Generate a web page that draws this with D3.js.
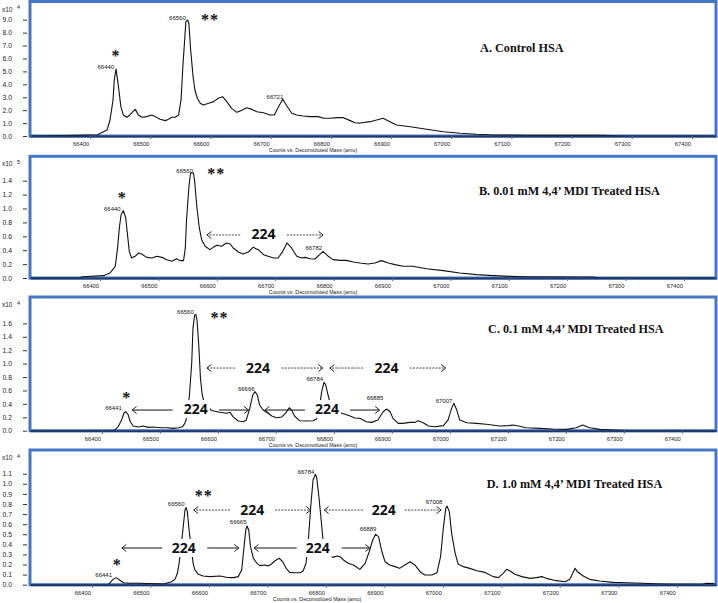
<!DOCTYPE html>
<html>
<head>
<meta charset="utf-8">
<script src="https://cdn.jsdelivr.net/npm/d3@7"></script>
<style>
  body { margin: 0; background: #fff; }
  svg { display: block; }
</style>
</head>
<body>
<svg id="chart" width="718" height="603"></svg>
<script>
// ---- spectra: [deconvoluted mass (amu), counts in units of the panel exponent] ----
const spectrumA = [
  [66300,0],[66378,0.05],[66412,0.1],[66417,0.21],[66428,0.46],[66433,1.24],[66438,2.79],[66440,4.33],[66443,5.19],
  [66447,3.82],[66451,2.27],[66455,1.63],[66461,1.45],[66466,1.63],[66471,1.88],[66475,2.06],[66480,1.63],[66486,1.45],
  [66494,1.50],[66502,1.63],[66508,1.50],[66516,1.29],[66525,1.19],[66530,1.29],[66536,1.45],[66541,1.45],[66547,1.63],
  [66551,2.79],[66554,5.37],[66557,7.43],[66559,8.85],[66562,8.98],[66564,8.72],[66567,6.66],[66571,4.59],[66574,3.56],
  [66578,2.92],[66583,2.53],[66588,2.40],[66597,2.53],[66605,2.66],[66613,2.92],[66620,3.04],[66627,2.66],[66635,2.14],
  [66644,1.83],[66652,2.00],[66660,2.19],[66669,2.06],[66677,1.88],[66688,1.80],[66699,1.63],[66706,1.63],[66713,2.27],
  [66720,2.84],[66727,2.32],[66735,1.76],[66743,1.63],[66754,1.55],[66765,1.50],[66779,1.50],[66788,1.37],[66799,1.37],
  [66810,1.42],[66821,1.42],[66832,1.19],[66840,1.03],[66849,1.00],[66865,1.11],[66876,1.24],[66887,1.37],[66898,1.11],
  [66909,0.85],[66932,0.72],[66959,0.52],[66987,0.33],[67015,0.21],[67042,0.13],[67070,0.08],[67125,0.05],[67253,0.05],
  [67280,0],[67440,0]
];
const spectrumB = [
  [66280,0],[66363,0],[66370,0.019],[66406,0.034],[66417,0.072],[66426,0.168],[66430,0.43],[66433,0.72],[66436,0.91],
  [66440,0.969],[66444,0.863],[66447,0.624],[66450,0.384],[66454,0.288],[66460,0.312],[66466,0.36],[66471,0.345],
  [66480,0.297],[66489,0.288],[66497,0.312],[66506,0.297],[66514,0.264],[66523,0.24],[66531,0.278],[66537,0.25],
  [66543,0.25],[66546,0.43],[66548,0.815],[66552,1.295],[66555,1.511],[66560,1.511],[66562,1.39],[66566,1.007],
  [66570,0.72],[66574,0.552],[66580,0.456],[66588,0.408],[66594,0.441],[66600,0.47],[66608,0.456],[66617,0.504],
  [66623,0.489],[66628,0.432],[66637,0.374],[66645,0.345],[66654,0.374],[66662,0.441],[66671,0.408],[66680,0.336],
  [66688,0.312],[66697,0.288],[66705,0.288],[66713,0.384],[66720,0.504],[66728,0.432],[66737,0.312],[66745,0.288],
  [66751,0.297],[66760,0.278],[66768,0.273],[66776,0.336],[66782,0.384],[66791,0.312],[66799,0.264],[66811,0.254],
  [66822,0.254],[66834,0.23],[66845,0.216],[66859,0.201],[66871,0.216],[66882,0.25],[66894,0.216],[66905,0.192],
  [66919,0.168],[66936,0.168],[66959,0.134],[66988,0.106],[67016,0.072],[67045,0.048],[67073,0.034],[67102,0.024],
  [67131,0.019],[67245,0.014],[67256,0],[67455,0]
];
const spectrumC = [
  [66276,0],[66419,0],[66422,0.01],[66428,0.06],[66434,0.16],[66438,0.26],[66441,0.284],[66445,0.244],[66449,0.134],
  [66454,0.070],[66463,0.055],[66471,0.070],[66480,0.05],[66488,0.055],[66500,0.045],[66512,0.045],[66523,0.035],
  [66532,0.045],[66539,0.06],[66543,0.109],[66546,0.184],[66551,0.532],[66555,1.029],[66557,1.525],[66560,1.724],
  [66562,1.734],[66564,1.649],[66567,1.277],[66570,0.78],[66573,0.532],[66576,0.433],[66589,0.30],[66603,0.274],
  [66615,0.26],[66621,0.274],[66626,0.209],[66635,0.144],[66644,0.134],[66649,0.16],[66655,0.333],[66660,0.532],
  [66664,0.582],[66668,0.532],[66672,0.383],[66678,0.308],[66684,0.274],[66693,0.219],[66701,0.194],[66710,0.204],
  [66718,0.274],[66723,0.343],[66727,0.308],[66733,0.209],[66741,0.149],[66753,0.144],[66764,0.149],[66770,0.174],
  [66775,0.333],[66779,0.582],[66783,0.721],[66786,0.681],[66790,0.532],[66793,0.433],[66810,0.27],[66828,0.219],
  [66836,0.189],[66845,0.184],[66856,0.134],[66865,0.124],[66876,0.16],[66885,0.283],[66891,0.323],[66897,0.283],
  [66902,0.184],[66911,0.109],[66919,0.109],[66931,0.124],[66940,0.124],[66945,0.149],[66954,0.119],[66963,0.070],
  [66974,0.06],[66989,0.075],[66997,0.16],[67003,0.333],[67007,0.408],[67012,0.308],[67017,0.16],[67029,0.119],
  [67046,0.109],[67063,0.095],[67086,0.070],[67101,0.075],[67109,0.085],[67118,0.070],[67132,0.045],[67155,0.035],
  [67178,0.025],[67201,0.02],[67218,0.045],[67229,0.085],[67241,0.045],[67259,0.02],[67282,0.01],[67293,0.005],
  [67310,0],[67459,0]
];
const spectrumD = [
  [66294,0],[66428,0],[66431,0.02],[66436,0.053],[66441,0.070],[66447,0.047],[66454,0.020],[66465,0.014],[66482,0.014],
  [66511,0.010],[66522,0.007],[66530,0.020],[66536,0.030],[66542,0.053],[66546,0.113],[66549,0.212],[66553,0.41],
  [66556,0.575],[66559,0.740],[66561,0.764],[66563,0.724],[66566,0.542],[66570,0.35],[66573,0.212],[66576,0.146],
  [66582,0.103],[66590,0.086],[66602,0.080],[66619,0.086],[66630,0.073],[66642,0.070],[66650,0.080],[66656,0.146],
  [66660,0.377],[66663,0.542],[66665,0.582],[66668,0.542],[66671,0.377],[66676,0.262],[66682,0.212],[66687,0.189],
  [66696,0.196],[66701,0.185],[66707,0.205],[66713,0.238],[66720,0.262],[66726,0.228],[66732,0.162],[66738,0.122],
  [66747,0.119],[66756,0.119],[66761,0.136],[66766,0.212],[66770,0.443],[66774,0.773],[66778,1.038],[66782,1.094],
  [66784,1.071],[66788,0.872],[66793,0.575],[66795,0.443],[66801,0.33],[66807,0.294],[66812,0.271],[66819,0.284],
  [66824,0.278],[66830,0.245],[66838,0.212],[66847,0.196],[66858,0.152],[66867,0.212],[66874,0.327],[66880,0.443],
  [66885,0.499],[66890,0.476],[66895,0.344],[66901,0.228],[66909,0.196],[66918,0.179],[66926,0.162],[66935,0.196],
  [66944,0.228],[66952,0.196],[66961,0.129],[66969,0.096],[66981,0.096],[66990,0.119],[66996,0.278],[67001,0.575],
  [67005,0.757],[67007,0.780],[67011,0.724],[67015,0.509],[67021,0.311],[67026,0.205],[67035,0.179],[67046,0.162],
  [67058,0.139],[67072,0.122],[67086,0.080],[67095,0.070],[67103,0.113],[67109,0.152],[67115,0.136],[67123,0.103],
  [67135,0.080],[67149,0.063],[67160,0.070],[67169,0.080],[67177,0.063],[67194,0.040],[67209,0.030],[67217,0.053],
  [67222,0.113],[67226,0.162],[67230,0.129],[67240,0.086],[67251,0.053],[67268,0.036],[67291,0.023],[67314,0.020],
  [67342,0.014],[67371,0.007],[67399,0.003],[67445,0.007],[67451,0.014],[67467,0.01]
];

// ---- axes ----
const xTicks = [66400, 66500, 66600, 66700, 66800, 66900, 67000, 67100, 67200, 67300, 67400];
const xDomainA = [66300, 67440];
const xDomainB = [66280, 67455];
const xDomainC = [66276, 67459];
const xDomainD = [66294, 67467];
const yTicksA = [0, 1, 2, 3, 4, 5, 6, 7, 8, 9];
const yTicksB = [0, 0.2, 0.4, 0.6, 0.8, 1.0, 1.2, 1.4];
const yTicksC = [0, 0.2, 0.4, 0.6, 0.8, 1.0, 1.2, 1.4, 1.6];
const yTicksD = [0, 0.1, 0.2, 0.3, 0.4, 0.5, 0.6, 0.7, 0.8, 0.9, 1.0, 1.1];
const yDomainA = [0, 10.41];
const yDomainB = [0, 1.751];
const yDomainC = [0, 1.993];
const yDomainD = [0, 1.335];

// ---- annotations: [text, mass, counts] ----
const peakLabelsA = [["66440", 66426, 5.34], ["66560", 66545, 9.13], ["66721", 66707, 3.02]];
const peakLabelsB = [["66440", 66421, 0.993], ["66560", 66545, 1.54], ["66782", 66766, 0.432]];
const peakLabelsC = [["66441", 66420, 0.338], ["66560", 66544, 1.769], ["66666", 66649, 0.621],
                     ["66784", 66767, 0.770], ["66885", 66871, 0.487], ["67007", 66990, 0.443]];
const peakLabelsD = [["66441", 66420, 0.096], ["66560", 66544, 0.80], ["66665", 66650, 0.621],
                     ["66784", 66766, 1.117], ["66889", 66872, 0.552], ["67008", 66985, 0.82]];
const starsA = [["*", 66443, 6.42], ["**", 66599, 9.21]];
const starsB = [["*", 66438, 1.194], ["**", 66599, 1.54]];
const starsC = [["*", 66443, 0.527], ["**", 66603, 1.724]];
const starsD = [["*", 66443, 0.225], ["**", 66591, 0.909]];
// arrows: [tail mass, head mass, counts, style]
const arrowsB = [[66640, 66583, 0.619, "dash"], [66720, 66782, 0.619, "dash"]];
const arrowsC = [[66629, 66581, 0.934, "dash"], [66710, 66781, 0.934, "dash"], [66850, 66793, 0.934, "dash"],
                 [66931, 66993, 0.934, "dash"], [66522, 66452, 0.308, "solid"], [66602, 66653, 0.308, "solid"],
                 [66750, 66681, 0.308, "solid"], [66828, 66879, 0.308, "solid"]];
const arrowsD = [[66636, 66574, 0.740, "dash"], [66713, 66774, 0.740, "dash"], [66863, 66797, 0.740, "dash"],
                 [66935, 66997, 0.740, "dash"], [66520, 66451, 0.364, "solid"], [66597, 66651, 0.364, "solid"],
                 [66750, 66677, 0.364, "solid"], [66827, 66875, 0.364, "solid"]];
// "224" mass shift labels: [mass, counts]
const shiftLabelsB = [[66680, 0.633]];
const shiftLabelsC = [[66669, 0.934], [66891, 0.934], [66562, 0.323], [66788, 0.323]];
const shiftLabelsD = [[66674, 0.740], [66899, 0.740], [66557, 0.364], [66786, 0.364]];
const titles = ["A. Control HSA", "B. 0.01 mM 4,4\u2019 MDI Treated HSA",
                "C. 0.1 mM 4,4\u2019 MDI Treated HSA", "D. 1.0 mM 4,4\u2019 MDI Treated HSA"];
const titlePos = [[67048, 6.81], [67049, 1.252], [67066, 1.516], [67075, 0.998]];
const exponents = ["4", "5", "4", "4"];

const panels = [
  { data: spectrumA, xDomain: xDomainA, yDomain: yDomainA, yTicks: yTicksA, top: 1.5, bottom: 136,
    peaks: peakLabelsA, stars: starsA, arrows: [], shifts: [], xLabelX: 313 },
  { data: spectrumB, xDomain: xDomainB, yDomain: yDomainB, yTicks: yTicksB, top: 156.3, bottom: 278,
    peaks: peakLabelsB, stars: starsB, arrows: arrowsB, shifts: shiftLabelsB, xLabelX: 313 },
  { data: spectrumC, xDomain: xDomainC, yDomain: yDomainC, yTicks: yTicksC, top: 297, bottom: 430.7,
    peaks: peakLabelsC, stars: starsC, arrows: arrowsC, shifts: shiftLabelsC, xLabelX: 313 },
  { data: spectrumD, xDomain: xDomainD, yDomain: yDomainD, yTicks: yTicksD, top: 450, bottom: 584.7,
    peaks: peakLabelsD, stars: starsD, arrows: arrowsD, shifts: shiftLabelsD, xLabelX: 317 }
];

const sans = "'Liberation Sans', Arial, sans-serif";
const serif = "'Liberation Serif', 'Times New Roman', serif";
const svg = d3.select("#chart");
const plotLeft = 30, plotRight = 716;

panels.forEach((p, i) => {
  const x = d3.scaleLinear().domain(p.xDomain).range([plotLeft, plotRight]);
  const y = d3.scaleLinear().domain(p.yDomain).range([p.bottom, p.top]);
  const g = svg.append("g");

  // panel frame
  g.append("rect")
    .attr("x", plotLeft).attr("y", p.top)
    .attr("width", plotRight - plotLeft).attr("height", p.bottom - p.top)
    .attr("fill", "#fff").attr("stroke", "#4776c4").attr("stroke-width", 3);

  g.append("clipPath").attr("id", "clip" + i)
    .append("rect")
    .attr("x", plotLeft + 1.5).attr("y", p.top + 1.5)
    .attr("width", plotRight - plotLeft - 3).attr("height", p.bottom - p.top - 1.5);

  // spectrum trace
  const line = d3.line().x(d => x(d[0])).y(d => y(d[1]));
  g.append("path")
    .datum(p.data)
    .attr("d", line)
    .attr("fill", "none")
    .attr("stroke", "#111")
    .attr("stroke-width", 1.1)
    .attr("stroke-linejoin", "round")
    .attr("clip-path", `url(#clip${i})`);

  // x axis
  const xAxis = d3.axisBottom(x).tickValues(xTicks).tickSizeInner(3).tickSizeOuter(0)
    .tickPadding(3).tickFormat(d3.format("d"));
  const xg = g.append("g").attr("transform", `translate(0,${p.bottom})`).call(xAxis);
  xg.select(".domain").attr("stroke", "#1d3a70").attr("stroke-width", 2);
  xg.selectAll(".tick line").attr("stroke", "#666");
  xg.selectAll(".tick text")
    .attr("text-anchor", "end").attr("x", -1.5)
    .style("font-family", sans).style("font-size", "5.8px").attr("fill", "#222");

  g.append("text")
    .attr("x", p.xLabelX).attr("y", p.bottom + 16)
    .attr("text-anchor", "middle")
    .style("font-family", sans).style("font-size", "5.3px").attr("fill", "#222")
    .text("Counts vs. Deconvoluted Mass (amu)");

  // y axis
  const yAxis = d3.axisLeft(y).tickValues(p.yTicks).tickSize(4).tickPadding(11)
    .tickFormat(d3.format(".1f"));
  const yg = g.append("g").attr("transform", "translate(27,0)").call(yAxis);
  yg.select(".domain").remove();
  yg.selectAll(".tick line").attr("stroke", "#333");
  yg.selectAll(".tick text")
    .style("font-family", sans).style("font-size", "6.8px").attr("fill", "#222");

  const ex = g.append("text")
    .attr("x", 2).attr("y", p.top + 10)
    .style("font-family", sans).style("font-size", "6.5px").attr("fill", "#222");
  ex.append("tspan").text("x10");
  ex.append("tspan").attr("x", 17).attr("dy", -2.5).style("font-size", "5.5px").text(exponents[i]);

  // peak mass labels
  g.selectAll(".peak").data(p.peaks).join("text")
    .attr("x", d => x(d[1])).attr("y", d => y(d[2]) + 2.2)
    .attr("text-anchor", "middle")
    .style("font-family", sans).style("font-size", "6px").attr("fill", "#111")
    .text(d => d[0]);

  // stars
  g.selectAll(".star").data(p.stars).join("text")
    .attr("x", d => x(d[1])).attr("y", d => y(d[2]) + 8)
    .attr("text-anchor", "middle")
    .style("font-family", serif).style("font-weight", "bold").style("font-size", "16px")
    .style("letter-spacing", "1px").attr("fill", "#111")
    .text(d => d[0]);

  // 224 arrows
  p.arrows.forEach(a => {
    const x1 = x(a[0]), x2 = x(a[1]), yy = y(a[2]);
    const dir = x2 > x1 ? 1 : -1;
    g.append("line")
      .attr("x1", x1).attr("x2", x2).attr("y1", yy).attr("y2", yy)
      .attr("stroke", a[3] === "dash" ? "#444" : "#111").attr("stroke-width", 1)
      .attr("stroke-dasharray", a[3] === "dash" ? "2,1.2" : null);
    g.append("path")
      .attr("d", `M${x2 - dir * 4.5},${yy - 3.5}L${x2},${yy}L${x2 - dir * 4.5},${yy + 3.5}`)
      .attr("fill", "none").attr("stroke", "#222").attr("stroke-width", 1);
  });

  p.shifts.forEach(s => {
    const cx = x(s[0]), cy = y(s[1]);
    g.append("rect")
      .attr("x", cx - 14).attr("y", cy - 9).attr("width", 28).attr("height", 18)
      .attr("fill", "#fff");
    g.append("text")
      .attr("x", cx).attr("y", cy + 5)
      .attr("text-anchor", "middle")
      .style("font-family", "'Open Sans', sans-serif").style("font-weight", "700").style("font-size", "14px")
      .attr("fill", "#111")
      .text("224");
  });

  // panel title
  g.append("text")
    .attr("x", x(titlePos[i][0])).attr("y", y(titlePos[i][1]) + 4)
    .style("font-family", serif)
    .style("font-weight", "bold").style("font-size", "12.2px").attr("fill", "#111")
    .text(titles[i]);
});
</script>
</body>
</html>
